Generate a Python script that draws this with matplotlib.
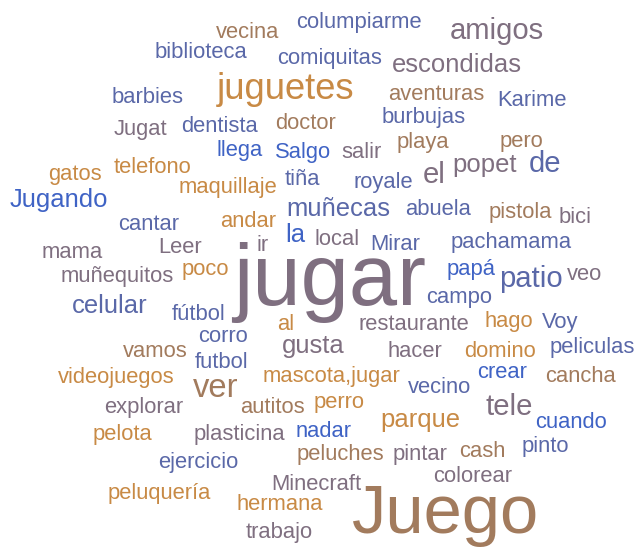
#!/usr/bin/python3
# word cloud: que te gusta hacer

import sys
import matplotlib
matplotlib.use('Agg')
from matplotlib import pyplot as plt

# words and how often they were said
words = ['vecina', 'columpiarme', 'biblioteca', 'comiquitas', 'amigos', 'escondidas',
         'juguetes', 'barbies', 'aventuras', 'Karime', 'burbujas', 'Jugat', 'dentista',
         'doctor', 'llega', 'Salgo', 'salir', 'playa', 'pero', 'gatos', 'telefono', 'el',
         'popet', 'de', 'maquillaje', 'tiña', 'royale', 'Jugando', 'muñecas', 'abuela',
         'pistola', 'bici', 'cantar', 'andar', 'la', 'local', 'Mirar', 'pachamama', 'mama',
         'Leer', 'ir', 'jugar', 'poco', 'muñequitos', 'papá', 'patio', 'veo', 'celular',
         'fútbol', 'campo', 'al', 'restaurante', 'hago', 'Voy', 'corro', 'gusta', 'vamos',
         'hacer', 'domino', 'peliculas', 'futbol', 'videojuegos', 'ver', 'mascota,jugar',
         'vecino', 'crear', 'cancha', 'explorar', 'autitos', 'perro', 'tele', 'parque',
         'cuando', 'pelota', 'plasticina', 'nadar', 'pinto', 'ejercicio', 'peluches',
         'pintar', 'cash', 'colorear', 'Minecraft', 'peluquería', 'hermana', 'trabajo',
         'Juego']
freqs = [1, 1, 1, 1, 3, 2,
         5, 1, 1, 1, 1, 1, 1,
         1, 1, 1, 1, 1, 1, 1, 1, 3,
         2, 3, 1, 1, 1, 2, 2, 1,
         1, 1, 1, 1, 2, 1, 1, 1, 1,
         1, 1, 19, 1, 1, 1, 3, 1, 2,
         1, 1, 1, 1, 1, 1, 1, 2, 1,
         1, 1, 1, 1, 1, 4, 1,
         1, 1, 1, 1, 1, 1, 3, 2,
         1, 1, 1, 1, 1, 1, 1,
         1, 1, 1, 1, 1, 1, 1,
         14]

# layout of the cloud (centre x, baseline y in pixels) and colour group
pos_x = [248, 359, 201, 330, 497, 457, 286, 148, 436, 532, 424, 140, 220,
         306, 240, 303, 361, 423, 521, 75, 152, 434, 485, 545, 228, 302, 383,
         59, 338, 438, 520, 575, 149, 248, 295, 337, 395, 511, 72, 180, 263,
         330, 205, 117, 471, 531, 585, 110, 199, 459, 286, 414, 509, 560, 223,
         313, 155, 415, 500, 592, 222, 116, 216, 331, 440, 502, 580, 144, 272,
         339, 509, 420, 571, 122, 239, 324, 545, 198, 340, 420, 482, 473, 316,
         159, 280, 279, 446]
pos_y = [38, 28, 58, 64, 39, 72, 99, 103, 100, 106, 123, 135, 132,
         129, 156, 158, 158, 148, 147, 180, 173, 183, 172, 172, 193, 185, 188,
         207, 216, 215, 218, 223, 230, 227, 242, 245, 250, 248, 258, 253, 251,
         305, 275, 282, 275, 287, 280, 313, 320, 303, 330, 330, 327, 328, 342,
         353, 357, 357, 357, 353, 368, 383, 397, 382, 393, 378, 382, 413, 413,
         408, 415, 427, 428, 440, 440, 437, 452, 468, 460, 460, 457, 482, 490,
         499, 510, 538, 533]
groups = ['b', 's', 's', 's', 'm', 'm', 'o', 's', 'b', 's', 's', 'm', 's',
          'b', 'B', 'B', 'm', 'b', 'b', 'o', 'o', 'm', 'm', 's', 'o', 's', 's',
          'B', 's', 's', 'b', 'm', 's', 'o', 'B', 'm', 's', 's', 'm', 'm', 'm',
          'm', 'o', 'm', 'B', 's', 'm', 's', 's', 's', 'o', 'm', 'o', 's', 's',
          'm', 'b', 'm', 'o', 's', 's', 'o', 'b', 'o', 's', 'B', 'b', 'm', 'b',
          'o', 'm', 'o', 'B', 'o', 'm', 'B', 's', 's', 'b', 'm', 'b', 'm', 'm',
          'o', 'o', 'm', 'b']

palette = {'m': '#7f6f80', 'b': '#a27b5d', 'o': '#c88a45',
           's': '#5a68a8', 'B': '#3f63c5'}

##########################################
def emSize(freq):
    # linear scale from frequency to font em height in pixels
    return 22.0 + (freq - 1) * 3.6
##########################################
def main(argv):
    W, H = 639, 547
    fig = plt.figure(figsize=(W / 100., H / 100.), dpi=100)
    ax = fig.add_axes([0, 0, 1, 1])
    ax.set_xlim(0, W)
    ax.set_ylim(H, 0)
    ax.axis('off')

    for w, f, x, y, g in zip(words, freqs, pos_x, pos_y, groups):
        ax.text(x, y, w, fontsize=emSize(f) * 0.72, color=palette[g],
                ha='center', va='baseline', family='Liberation Sans')

    fig.savefig('out.png', dpi=100, facecolor='white')
    return

if __name__ == "__main__":
    main(sys.argv)
